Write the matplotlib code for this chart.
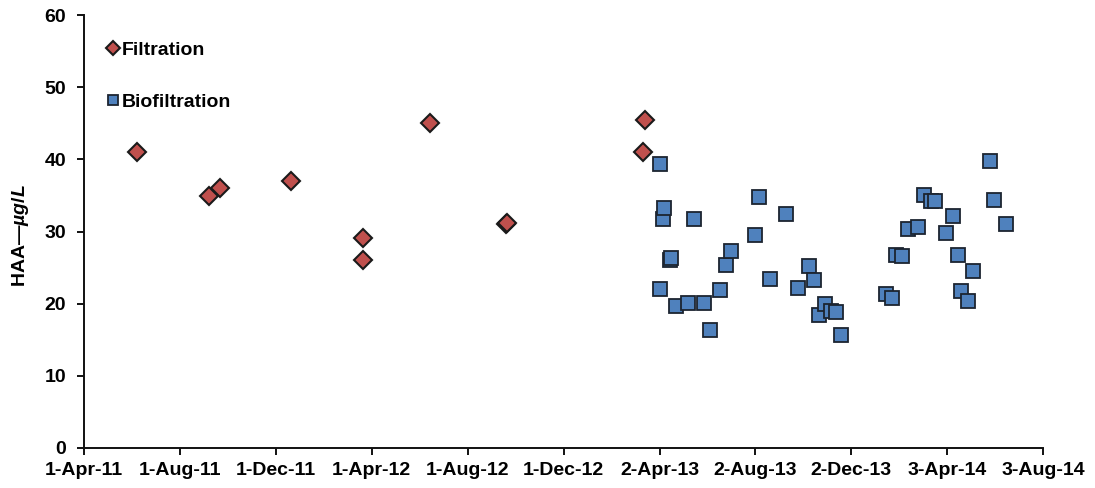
import matplotlib
matplotlib.use("Agg")
import matplotlib.pyplot as plt
import numpy as np
import datetime as dt

plt.rcParams["font.family"] = ["Liberation Sans", "DejaVu Sans"]
plt.rcParams["mathtext.fontset"] = "custom"
plt.rcParams["mathtext.it"] = "Liberation Sans:italic:bold"
plt.rcParams["mathtext.rm"] = "Liberation Sans:bold"

# HAA concentrations (µg/L)
filt_dates = ["2011-06-07", "2011-09-07", "2011-09-21", "2011-12-20", "2012-03-21",
              "2012-03-21", "2012-06-14", "2012-09-19", "2012-09-20", "2013-03-12",
              "2013-03-14"]
filt_haa = [41.0, 34.9, 36.0, 37.0, 29.1, 26.0, 45.0, 31.0, 31.2, 41.0, 45.4]

bio_dates = ["2013-04-03", "2013-04-03", "2013-04-07", "2013-04-08", "2013-04-15",
             "2013-04-17", "2013-04-23", "2013-05-08", "2013-05-16", "2013-05-28",
             "2013-06-05", "2013-06-18", "2013-06-25", "2013-07-02", "2013-08-02",
             "2013-08-07", "2013-08-20", "2013-09-10", "2013-09-25", "2013-10-09",
             "2013-10-16", "2013-10-22", "2013-10-29", "2013-11-06", "2013-11-12",
             "2013-11-19", "2014-01-15", "2014-01-23", "2014-01-28", "2014-02-05",
             "2014-02-12", "2014-02-25", "2014-03-05", "2014-03-13", "2014-03-18",
             "2014-04-01", "2014-04-10", "2014-04-16", "2014-04-21", "2014-04-29",
             "2014-05-06", "2014-05-27", "2014-06-02", "2014-06-17"]
bio_haa = [39.4, 22.0, 31.7, 33.2, 26.1, 26.4, 19.7, 20.1, 31.7, 20.1,
           16.4, 21.9, 25.4, 27.3, 29.5, 34.8, 23.4, 32.5, 22.2, 25.2,
           23.3, 18.5, 20.0, 19.0, 18.8, 15.6, 21.3, 20.8, 26.8, 26.6,
           30.3, 30.7, 35.0, 34.3, 34.3, 29.8, 32.1, 26.8, 21.7, 20.4,
           24.5, 39.8, 34.4, 31.1]

tick_start = dt.date(2011, 4, 1)
tick_step_days = 122
n_ticks = 11
tick_dates = [tick_start + dt.timedelta(days=tick_step_days * i) for i in range(n_ticks)]

def to_dates(lst):
    return [dt.datetime.strptime(s, "%Y-%m-%d").date() for s in lst]

fig = plt.figure(figsize=(10.95, 4.88), dpi=100)
ax = fig.add_axes([0.0767, 0.082, 0.876, 0.887])

ax.plot(to_dates(filt_dates), filt_haa, linestyle="none", marker="D", markersize=9,
        markerfacecolor="#C0504D", markeredgecolor="#1a1a1a", markeredgewidth=1.5,
        label="Filtration")
ax.plot(to_dates(bio_dates), bio_haa, linestyle="none", marker="s", markersize=10.5,
        markerfacecolor="#4F81BD", markeredgecolor="#1c2430", markeredgewidth=1.3,
        label="Biofiltration")

ax.set_xlim(tick_dates[0], tick_dates[-1])
ax.set_ylim(0, 60)
ax.set_xticks(tick_dates)
ax.set_xticklabels([f"{d.day}-{d.strftime('%b')}-{d.strftime('%y')}" for d in tick_dates])
ax.set_yticks(np.arange(0, 61, 10))

for s in ["top", "right"]:
    ax.spines[s].set_visible(False)
for s in ["left", "bottom"]:
    ax.spines[s].set_linewidth(1.4)
    ax.spines[s].set_color("#111111")

ax.tick_params(axis="both", direction="out", length=5, width=1.4, color="#111111",
               labelsize=14)
for lbl in ax.get_xticklabels() + ax.get_yticklabels():
    lbl.set_fontweight("bold")
ax.tick_params(axis="x", pad=5)
ax.tick_params(axis="y", pad=8)

ax.set_ylabel(r"HAA—$\mathit{µg/L}$", fontsize=14, fontweight="bold")
ax.yaxis.set_label_coords(-0.055, 0.49)

leg = ax.legend(loc="upper left", bbox_to_anchor=(0.006, 0.98), frameon=False,
                handlelength=0.55, handletextpad=0.2, labelspacing=1.75,
                markerscale=0.75, prop={"weight": "bold", "size": 14})

fig.savefig("out.png", dpi=100)
